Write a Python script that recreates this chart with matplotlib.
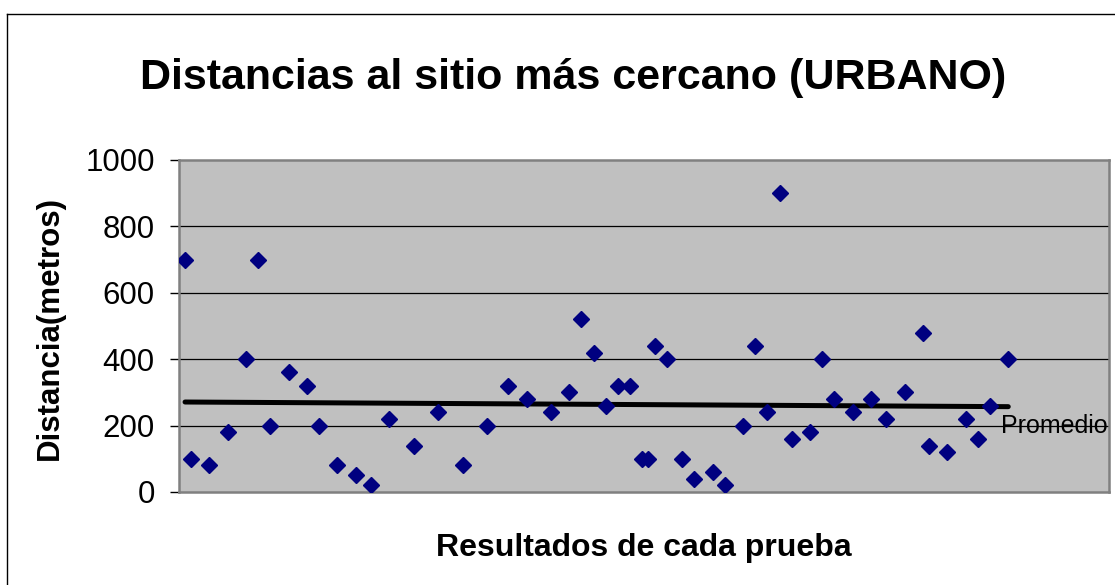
import numpy as np
import matplotlib.pyplot as plt
from matplotlib.lines import Line2D

plt.rcParams['font.family'] = ['Liberation Sans', 'DejaVu Sans']

# posición de cada prueba y distancia medida (metros)
prueba = [1, 2, 5, 8, 11, 13, 15, 18, 21, 23, 26, 29, 31.5, 34.5, 38.5, 42.5,
          46.5, 50.5, 54, 57, 61, 64, 66, 68, 70, 72, 74, 76, 77, 78, 80, 82.5,
          84.5, 87.5, 89.5, 92.5, 94.5, 96.5, 98.5, 100.5, 103.5, 105.5, 107.5,
          110.5, 113.5, 116, 119, 122, 123, 126, 129, 131, 133, 136]
distancia = [700, 100, 80, 180, 400, 700, 200, 360, 320, 200, 80, 50, 20, 220,
             140, 240, 80, 200, 320, 280, 240, 300, 520, 420, 260, 320, 320,
             100, 100, 440, 400, 100, 40, 60, 20, 200, 440, 240, 900, 160, 180,
             400, 280, 240, 280, 220, 300, 480, 140, 120, 220, 160, 260, 400]

# linea de tendencia (promedio)
tend_x = [1, 136]
tend_y = [271, 257]

x = np.array(prueba)
y = np.array(distancia)

fig = plt.figure(figsize=(11.15, 5.85), dpi=100)
ax = fig.add_axes([0.1605, 0.159, 0.834, 0.5675])
ax.set_facecolor('#C0C0C0')

for g in [200, 400, 600, 800]:
    ax.axhline(g, color='black', lw=0.9, zorder=1)

ax.plot(x, y, linestyle='none', marker='D', ms=7.8, color='#000080', zorder=3)
ax.plot(tend_x, tend_y, color='black', lw=3.6, solid_capstyle='round', zorder=2)

ax.text(tend_x[1] - 1.2, 200, 'Promedio', fontsize=18, va='center', ha='left', zorder=4)

ax.set_xlim(0, 152.5)
ax.set_ylim(0, 1000)
ax.set_yticks([0, 200, 400, 600, 800, 1000])
ax.set_xticks([])
ax.tick_params(axis='y', length=6.5, width=1, color='black', pad=11, labelsize=22.5)
for s in ax.spines.values():
    s.set_color('#808080')
    s.set_linewidth(1.8)

fig.text(0.514, 0.866, 'Distancias al sitio más cercano (URBANO)', fontsize=31,
         fontweight='bold', ha='center', va='center')
fig.text(0.0448, 0.4385, 'Distancia(metros)', fontsize=22.5, fontweight='bold',
         rotation=90, ha='center', va='center')
fig.text(0.577, 0.0632, 'Resultados de cada prueba', fontsize=23, fontweight='bold',
         ha='center', va='center')

# borde del grafico
fig.add_artist(Line2D([7 / 1115, 7 / 1115], [0, 1 - 14 / 585], color='black', lw=1))
fig.add_artist(Line2D([7 / 1115, 1], [1 - 14 / 585, 1 - 14 / 585], color='black', lw=1))

fig.savefig('out.png', dpi=100)
